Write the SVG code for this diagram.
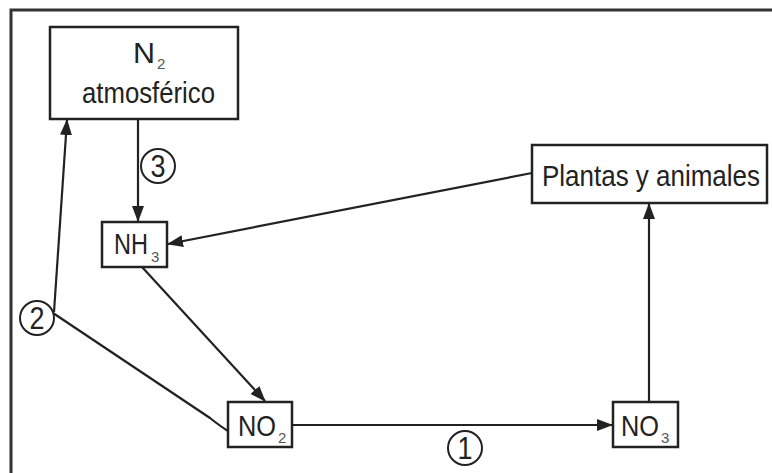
<svg xmlns="http://www.w3.org/2000/svg" width="772" height="473" viewBox="0 0 772 473">
<style>
.box{fill:#fff;stroke:#222;stroke-width:2.5}
.t{font-family:"Liberation Sans",Arial,sans-serif;fill:#222;font-size:30px}
.s{font-family:"Liberation Sans",Arial,sans-serif;fill:#555;font-size:15px}
.c{fill:#fff;stroke:#222;stroke-width:2}
.n{font-family:"Liberation Sans",Arial,sans-serif;fill:#222;font-size:31px;text-anchor:middle}
.ln{fill:none;stroke:#222;stroke-width:2.2}
</style>
<defs>
<marker id="ah" markerUnits="userSpaceOnUse" markerWidth="16" markerHeight="12" refX="15" refY="6" orient="auto">
<path d="M0,0 L16,6 L0,12 Z" fill="#222"/>
</marker>
</defs>
<rect width="772" height="473" fill="#fff"/>
<path d="M11,473 V10 H772" fill="none" stroke="#333" stroke-width="3"/>
<g id="connectors">
<line class="ln" x1="138" y1="119" x2="138" y2="221" marker-end="url(#ah)"/>
<line class="ln" x1="532" y1="173" x2="168" y2="244" marker-end="url(#ah)"/>
<line class="ln" x1="142" y1="267" x2="265" y2="401" marker-end="url(#ah)"/>
<line class="ln" x1="292" y1="425" x2="612" y2="425" marker-end="url(#ah)"/>
<line class="ln" x1="649" y1="402" x2="649" y2="204" marker-end="url(#ah)"/>
<line class="ln" x1="54" y1="312" x2="67" y2="120" marker-end="url(#ah)"/>
<path class="ln" d="M53,313 L210,418 Q220,426 228,431"/>
</g>
<g id="n2">
<rect class="box" x="50" y="27" width="188" height="92"/>
<text class="t" x="133" y="63" textLength="22" lengthAdjust="spacingAndGlyphs">N</text>
<text class="s" x="157" y="69">2</text>
<text class="t" x="82" y="103" textLength="133" lengthAdjust="spacingAndGlyphs">atmosférico</text>
</g>
<g id="nh3">
<rect class="box" x="102" y="222" width="65" height="45"/>
<text class="t" x="114" y="254" textLength="34" lengthAdjust="spacingAndGlyphs">NH</text>
<text class="s" x="151" y="262">3</text>
</g>
<g id="no2">
<rect class="box" x="228" y="402" width="64" height="45"/>
<text class="t" x="238" y="436" textLength="38" lengthAdjust="spacingAndGlyphs">NO</text>
<text class="s" x="278" y="443">2</text>
</g>
<g id="no3">
<rect class="box" x="613" y="402" width="65" height="45"/>
<text class="t" x="621" y="436" textLength="38" lengthAdjust="spacingAndGlyphs">NO</text>
<text class="s" x="661" y="443">3</text>
</g>
<g id="plantas">
<rect class="box" x="532" y="145" width="235" height="58"/>
<text class="t" x="542" y="186" font-size="31" textLength="218" lengthAdjust="spacingAndGlyphs">Plantas y animales</text>
</g>
<g id="label1">
<circle class="c" cx="465" cy="448" r="17"/>
<text class="n" x="465" y="459" textLength="15" lengthAdjust="spacingAndGlyphs">1</text>
</g>
<g id="label2">
<circle class="c" cx="37" cy="318" r="17"/>
<text class="n" x="37" y="329" textLength="15" lengthAdjust="spacingAndGlyphs">2</text>
</g>
<g id="label3">
<circle class="c" cx="158" cy="166" r="17"/>
<text class="n" x="158" y="177" textLength="15" lengthAdjust="spacingAndGlyphs">3</text>
</g>
</svg>
